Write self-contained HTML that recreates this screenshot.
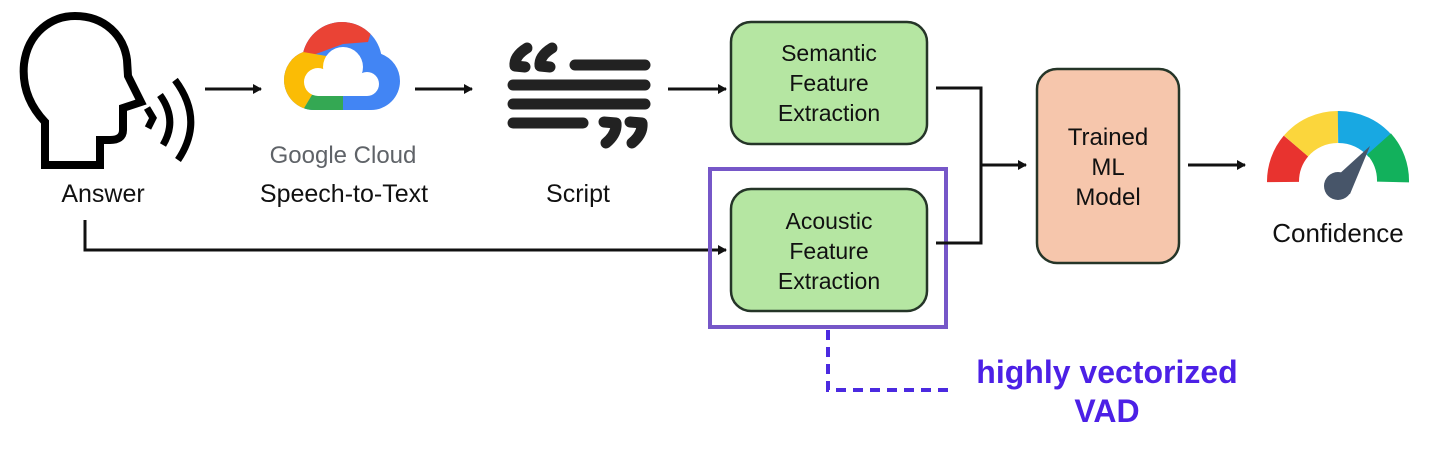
<!DOCTYPE html>
<html><head><meta charset="utf-8"><style>
html,body{margin:0;padding:0;background:#fff;}
svg{display:block}
text{font-family:"Liberation Sans",sans-serif;}
</style></head><body>
<svg width="1432" height="451" viewBox="0 0 1432 451" xmlns="http://www.w3.org/2000/svg">
<defs>
<marker id="ah" markerWidth="10" markerHeight="10" refX="8" refY="5" orient="auto" markerUnits="userSpaceOnUse">
<path d="M0,0 L9,5 L0,10 Z" fill="#111"/></marker>
<clipPath id="cl">
<circle cx="342" cy="62" r="40"/>
<circle cx="314" cy="80" r="30"/>
<circle cx="371" cy="81" r="29"/>
<rect x="314" y="70" width="57" height="40"/>
</clipPath>
</defs>
<rect width="1432" height="451" fill="#fff"/>
<!-- head -->
<path d="M45,165 L45,122 C28,104 22,85 24,64 C28,32 52,16 75,16 C105,16 124,36 127,60 L128,76 L141,102 L123,108 L123,130 C123,137 118,140 110,140 L100,140 L100,165 Z" fill="none" stroke="#000" stroke-width="8" stroke-linejoin="miter"/>
<path d="M147,108 L153,118 L148,128" fill="none" stroke="#000" stroke-width="7"/>
<path d="M160,95 Q178,120 163,145" fill="none" stroke="#000" stroke-width="7"/>
<path d="M175,80 Q205,120 178,160" fill="none" stroke="#000" stroke-width="7"/>
<text x="103" y="202" font-size="25" text-anchor="middle" fill="#111">Answer</text>
<!-- arrows -->
<line x1="205" y1="89" x2="261" y2="89" stroke="#111" stroke-width="3" marker-end="url(#ah)"/>
<line x1="415" y1="89" x2="472" y2="89" stroke="#111" stroke-width="3" marker-end="url(#ah)"/>
<line x1="668" y1="89" x2="726" y2="89" stroke="#111" stroke-width="3" marker-end="url(#ah)"/>
<!-- google cloud -->
<g clip-path="url(#cl)">
<rect x="270" y="15" width="140" height="100" fill="#4285f4"/>
<polygon points="280,10 378,10 368,42 343,44 305,58 280,62" fill="#ea4335"/>
<polygon points="270,45 303,52 338,58 322,78 312,95 300,115 270,115" fill="#fbbc05"/>
<polygon points="300,115 312,95 343,95 343,115" fill="#34a853"/>
</g>
<g fill="#fff">
<circle cx="343" cy="67" r="20"/>
<circle cx="318" cy="82" r="14"/>
<circle cx="367" cy="84" r="12"/>
<rect x="318" y="80" width="49" height="16"/>
</g>
<text x="343" y="163" font-size="24" text-anchor="middle" fill="#5f6368">Google Cloud</text>
<text x="344" y="202" font-size="25" text-anchor="middle" fill="#111">Speech-to-Text</text>
<!-- script icon -->
<g stroke="#222" stroke-width="11" stroke-linecap="round" stroke-linejoin="round" fill="none">
<line x1="575" y1="65" x2="645" y2="65"/>
<line x1="513" y1="85" x2="645" y2="85"/>
<line x1="513" y1="104" x2="645" y2="104"/>
<line x1="513" y1="123" x2="583" y2="123"/>
<path d="M527,48 Q514,56 515,66 L525,67"/>
<path d="M552,48 Q539,56 540,66 L550,67"/>
<path d="M604,122 L616,123 Q617,134 606,143"/>
<path d="M630,122 L642,123 Q643,134 632,143"/>
</g>
<text x="578" y="202" font-size="25" text-anchor="middle" fill="#111">Script</text>
<!-- answer line -->
<polyline points="85,220 85,250 726,250" fill="none" stroke="#111" stroke-width="3" marker-end="url(#ah)"/>
<!-- boxes -->
<rect x="731" y="22" width="196" height="122" rx="20" fill="#b5e6a2" stroke="#253528" stroke-width="2.5"/>
<text font-size="23" text-anchor="middle" fill="#111"><tspan x="829" y="61">Semantic</tspan><tspan x="829" y="91">Feature</tspan><tspan x="829" y="121">Extraction</tspan></text>
<rect x="731" y="189" width="196" height="122" rx="20" fill="#b5e6a2" stroke="#253528" stroke-width="2.5"/>
<text font-size="23" text-anchor="middle" fill="#111"><tspan x="829" y="229">Acoustic</tspan><tspan x="829" y="259">Feature</tspan><tspan x="829" y="289">Extraction</tspan></text>
<rect x="710" y="169" width="236" height="158" fill="none" stroke="#7657c8" stroke-width="4"/>
<!-- merge -->
<polyline points="936,88 981,88 981,243 936,243" fill="none" stroke="#111" stroke-width="3"/>
<line x1="981" y1="165" x2="1026" y2="165" stroke="#111" stroke-width="3" marker-end="url(#ah)"/>
<rect x="1037" y="69" width="142" height="194" rx="20" fill="#f6c6ac" stroke="#253528" stroke-width="2.5"/>
<text font-size="24" text-anchor="middle" fill="#111"><tspan x="1108" y="145">Trained</tspan><tspan x="1108" y="175">ML</tspan><tspan x="1108" y="205">Model</tspan></text>
<line x1="1188" y1="165" x2="1245" y2="165" stroke="#111" stroke-width="3" marker-end="url(#ah)"/>
<!-- gauge -->
<g fill="none" stroke-width="32">
<path d="M1283,182 A55,55 0 0 1 1296,146" stroke="#e8332f"/>
<path d="M1296,146 A55,55 0 0 1 1338,127" stroke="#fbd63c"/>
<path d="M1338,127 A55,55 0 0 1 1381,147" stroke="#18a8e2"/>
<path d="M1379,144 A55,55 0 0 1 1393,182" stroke="#12b15c"/>
</g>
<path d="M1326,186 L1370,146 L1350,194 Z" fill="#475569"/>
<circle cx="1338" cy="186" r="14" fill="#475569"/>
<text x="1338" y="242" font-size="26" text-anchor="middle" fill="#111">Confidence</text>
<!-- dashed -->
<polyline points="828,330 828,390 951,390" fill="none" stroke="#4b2ae0" stroke-width="4" stroke-dasharray="10,7"/>
<text x="1107" y="383" font-size="32" font-weight="bold" text-anchor="middle" fill="#4c20e6">highly vectorized</text>
<text x="1107" y="422" font-size="32" font-weight="bold" text-anchor="middle" fill="#4c20e6">VAD</text>
</svg>
</body></html>
